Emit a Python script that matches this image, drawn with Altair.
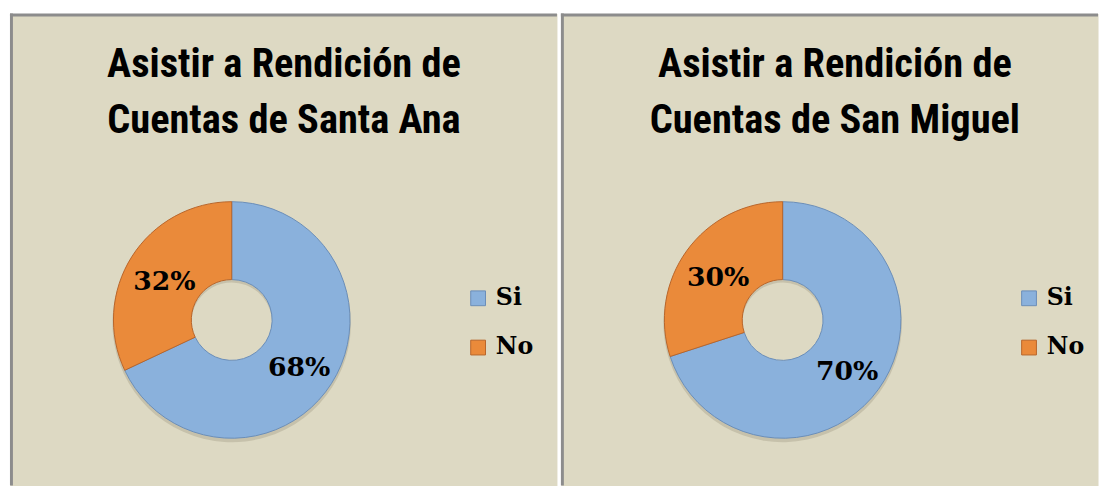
import altair as alt
import pandas as pd

# ---- data ----
categorias = ["Si", "No"]
santa_ana = [68, 32]
san_miguel = [70, 30]
titulo_santa_ana = ["Asistir a Rendición de", "Cuentas de Santa Ana"]
titulo_san_miguel = ["Asistir a Rendición de", "Cuentas de San Miguel"]

# ---- style ----
BEIGE = "#DDD9C3"
BORDE = "#8C8C8C"
AZUL = "#8AB1DC"
NARANJA = "#EA8A3A"
AZUL_BORDE = "#6A8DB8"
NARANJA_BORDE = "#B8652A"
FUENTE_TITULO = "Roboto Condensed, DejaVu Sans Condensed, sans-serif"
FUENTE_TEXTO = "DejaVu Serif"
CX, CY = 225, 311
R_IN, R_OUT = 41, 120
H = 479
TITULO_X = 278


def panel(valores, titulo, w, borde_izq=True):
    df = pd.DataFrame({
        "cat": categorias,
        "val": valores,
        "orden": list(range(len(categorias))),
        "etiqueta": [f"{v}%" for v in valores],
    })
    base = alt.Chart(df).encode(
        theta=alt.Theta("val:Q", stack=True),
        order=alt.Order("orden:Q"),
    )
    sombra = base.mark_arc(innerRadius=R_IN, outerRadius=R_OUT + 1, color="#9C967F", opacity=0.35).encode(
        x=alt.value(CX), y=alt.value(CY + 3)
    )
    arcos = base.mark_arc(innerRadius=R_IN, outerRadius=R_OUT, strokeWidth=1).encode(
        x=alt.value(CX),
        y=alt.value(CY),
        color=alt.Color(
            "cat:N",
            title=None,
            scale=alt.Scale(domain=categorias, range=[AZUL, NARANJA]),
            legend=alt.Legend(
                orient="none",
                legendX=463,
                legendY=277,
                padding=0,
                symbolType="square",
                symbolSize=225,
                symbolStrokeColor="#6E6E6E",
                symbolStrokeWidth=1,
                labelFont=FUENTE_TEXTO,
                labelFontSize=24,
                labelFontWeight="bold",
                labelColor="black",
                labelOffset=6,
                rowPadding=26,
            ),
        ),
        stroke=alt.Stroke(
            "cat:N",
            scale=alt.Scale(domain=categorias, range=[AZUL_BORDE, NARANJA_BORDE]),
            legend=None,
        ),
    )
    etiquetas = base.mark_text(
        radius=81, dy=5, font=FUENTE_TEXTO, fontSize=27, fontWeight="bold", color="black"
    ).encode(text="etiqueta:N", x=alt.value(CX), y=alt.value(CY))

    uno = alt.Chart(pd.DataFrame({"k": [0]}))
    tit = uno.mark_text(
        font=FUENTE_TITULO,
        fontSize=41,
        fontWeight="bold",
        color="black",
        align="center",
        baseline="alphabetic",
        lineHeight=57,
    ).encode(text=alt.value(titulo), x=alt.value(TITULO_X), y=alt.value(64))

    top = uno.mark_rule(color=BORDE, strokeWidth=3).encode(
        x=alt.value(0), x2=alt.value(w), y=alt.value(1.5)
    )
    capas = [sombra, arcos, etiquetas, tit, top]
    if borde_izq:
        izq = uno.mark_rule(color=BORDE, strokeWidth=3).encode(
            x=alt.value(1.5), y=alt.value(0), y2=alt.value(H)
        )
        capas.append(izq)
    return alt.layer(*capas).properties(width=w, height=H)


izquierda = panel(santa_ana, titulo_santa_ana, 555)
derecha = panel(san_miguel, titulo_san_miguel, 545)

chart = (
    alt.hconcat(izquierda, derecha, spacing=0)
    .resolve_scale(color="independent", stroke="independent", theta="independent")
    .resolve_legend(color="independent")
    .properties(padding=0, background="white")
    .configure_view(fill=BEIGE, stroke="transparent")
)

chart.save("out.html", embed_options={"renderer": "svg", "actions": False})
